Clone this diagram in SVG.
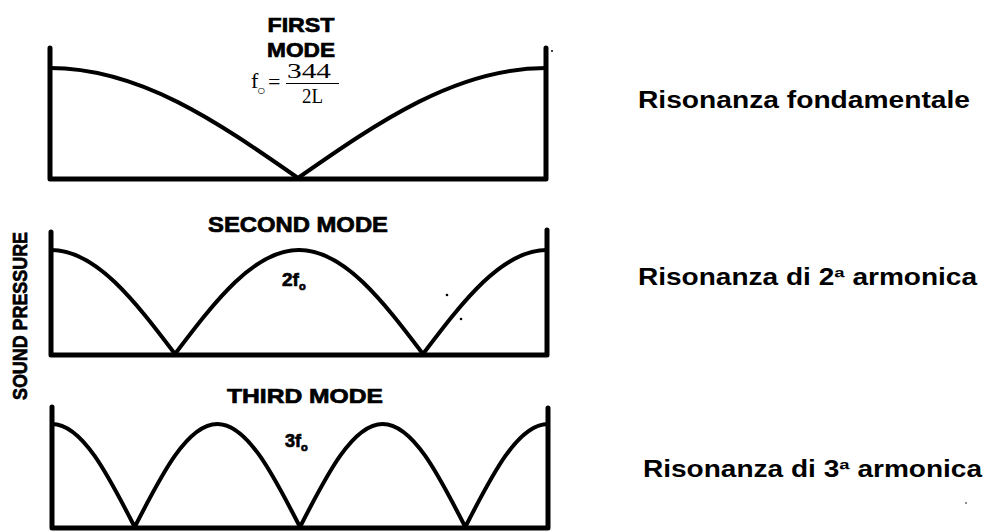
<svg xmlns="http://www.w3.org/2000/svg" width="984" height="532" viewBox="0 0 984 532">
<style>
.frame{fill:none;stroke:#000;stroke-width:5;stroke-linecap:round;stroke-linejoin:round}
.wave{fill:none;stroke:#000;stroke-width:4;stroke-linecap:round;stroke-linejoin:round}
.lbl{font-family:"Liberation Sans",Arial,sans-serif;font-weight:bold;fill:#000}
.scan{stroke:#000;stroke-width:0.7}
.math{font-family:"Liberation Serif","Times New Roman",serif;fill:#000}
</style>
<rect width="984" height="532" fill="#fff"/>
<g id="first-mode">
<path class="frame" d="M50,48 V179 H546 V48"/>
<path class="wave" d="M50,68 C139.8,68 217.1,121.6 298,178 C378.9,121.6 456.2,68 546,68"/>
<text class="lbl scan" x="301" y="32" font-size="21" text-anchor="middle" textLength="67" lengthAdjust="spacingAndGlyphs">FIRST</text>
<text class="lbl scan" x="301" y="57" font-size="21" text-anchor="middle" textLength="68" lengthAdjust="spacingAndGlyphs">MODE</text>
<g class="math">
<text x="251" y="88" font-size="22">f</text>
<text x="257" y="95" font-size="14">○</text>
<text x="268" y="89" font-size="22">=</text>
<text x="287" y="78" font-size="21" textLength="44" lengthAdjust="spacingAndGlyphs">344</text>
<line x1="286" y1="83.5" x2="339" y2="83.5" stroke="#000" stroke-width="1"/>
<text x="302" y="103" font-size="20" textLength="21" lengthAdjust="spacingAndGlyphs">2L</text>
</g>
</g>
<g id="second-mode">
<path class="frame" d="M51,232 V355 H547 V230"/>
<path class="wave" d="M51,250 C95.9,250 134.6,300.7 175,354 C215.4,300.7 254.1,250 299,250 C343.9,250 382.6,300.7 423,354 C463.4,300.7 502.1,250 547,250"/>
<text class="lbl scan" x="298" y="232" font-size="22" text-anchor="middle" textLength="180" lengthAdjust="spacingAndGlyphs">SECOND MODE</text>
<text class="lbl scan" x="282" y="286" font-size="19">2f<tspan font-size="11" dy="4">o</tspan></text>
</g>
<g id="third-mode">
<path class="frame" d="M52,407 V528 H548 V408"/>
<path class="wave" d="M52,424 C81.9,424 107.7,474.2 134.7,527 C161.7,474.2 187.5,424 217.3,424 C247.1,424 273,474.2 300,527 C327,474.2 352.8,424 382.7,424 C412.6,424 438.3,474.2 465.3,527 C492.3,474.2 518.1,424 548,424"/>
<text class="lbl scan" x="227" y="403" font-size="21" textLength="156" lengthAdjust="spacingAndGlyphs">THIRD MODE</text>
<text class="lbl scan" x="285" y="447" font-size="18">3f<tspan font-size="11" dy="4">o</tspan></text>
</g>
<g id="axis-label">
<text class="lbl scan" transform="translate(27,316) rotate(-90)" font-size="20" text-anchor="middle" textLength="168" lengthAdjust="spacingAndGlyphs">SOUND PRESSURE</text>
</g>
<g id="captions">
<text class="lbl" x="638" y="108" font-size="23" textLength="332" lengthAdjust="spacingAndGlyphs">Risonanza fondamentale</text>
<text class="lbl" x="638" y="285" font-size="23" textLength="339" lengthAdjust="spacingAndGlyphs">Risonanza di 2ª armonica</text>
<text class="lbl" x="643" y="477" font-size="23" textLength="339" lengthAdjust="spacingAndGlyphs">Risonanza di 3ª armonica</text>
</g>
<g id="specks" fill="#000">
<circle cx="447" cy="295" r="1.3"/>
<circle cx="461" cy="319" r="1.3"/>
<circle cx="552" cy="51" r="1"/>
<circle cx="966" cy="503" r="0.8"/>
</g>
<g id="connectors"/>
</svg>
